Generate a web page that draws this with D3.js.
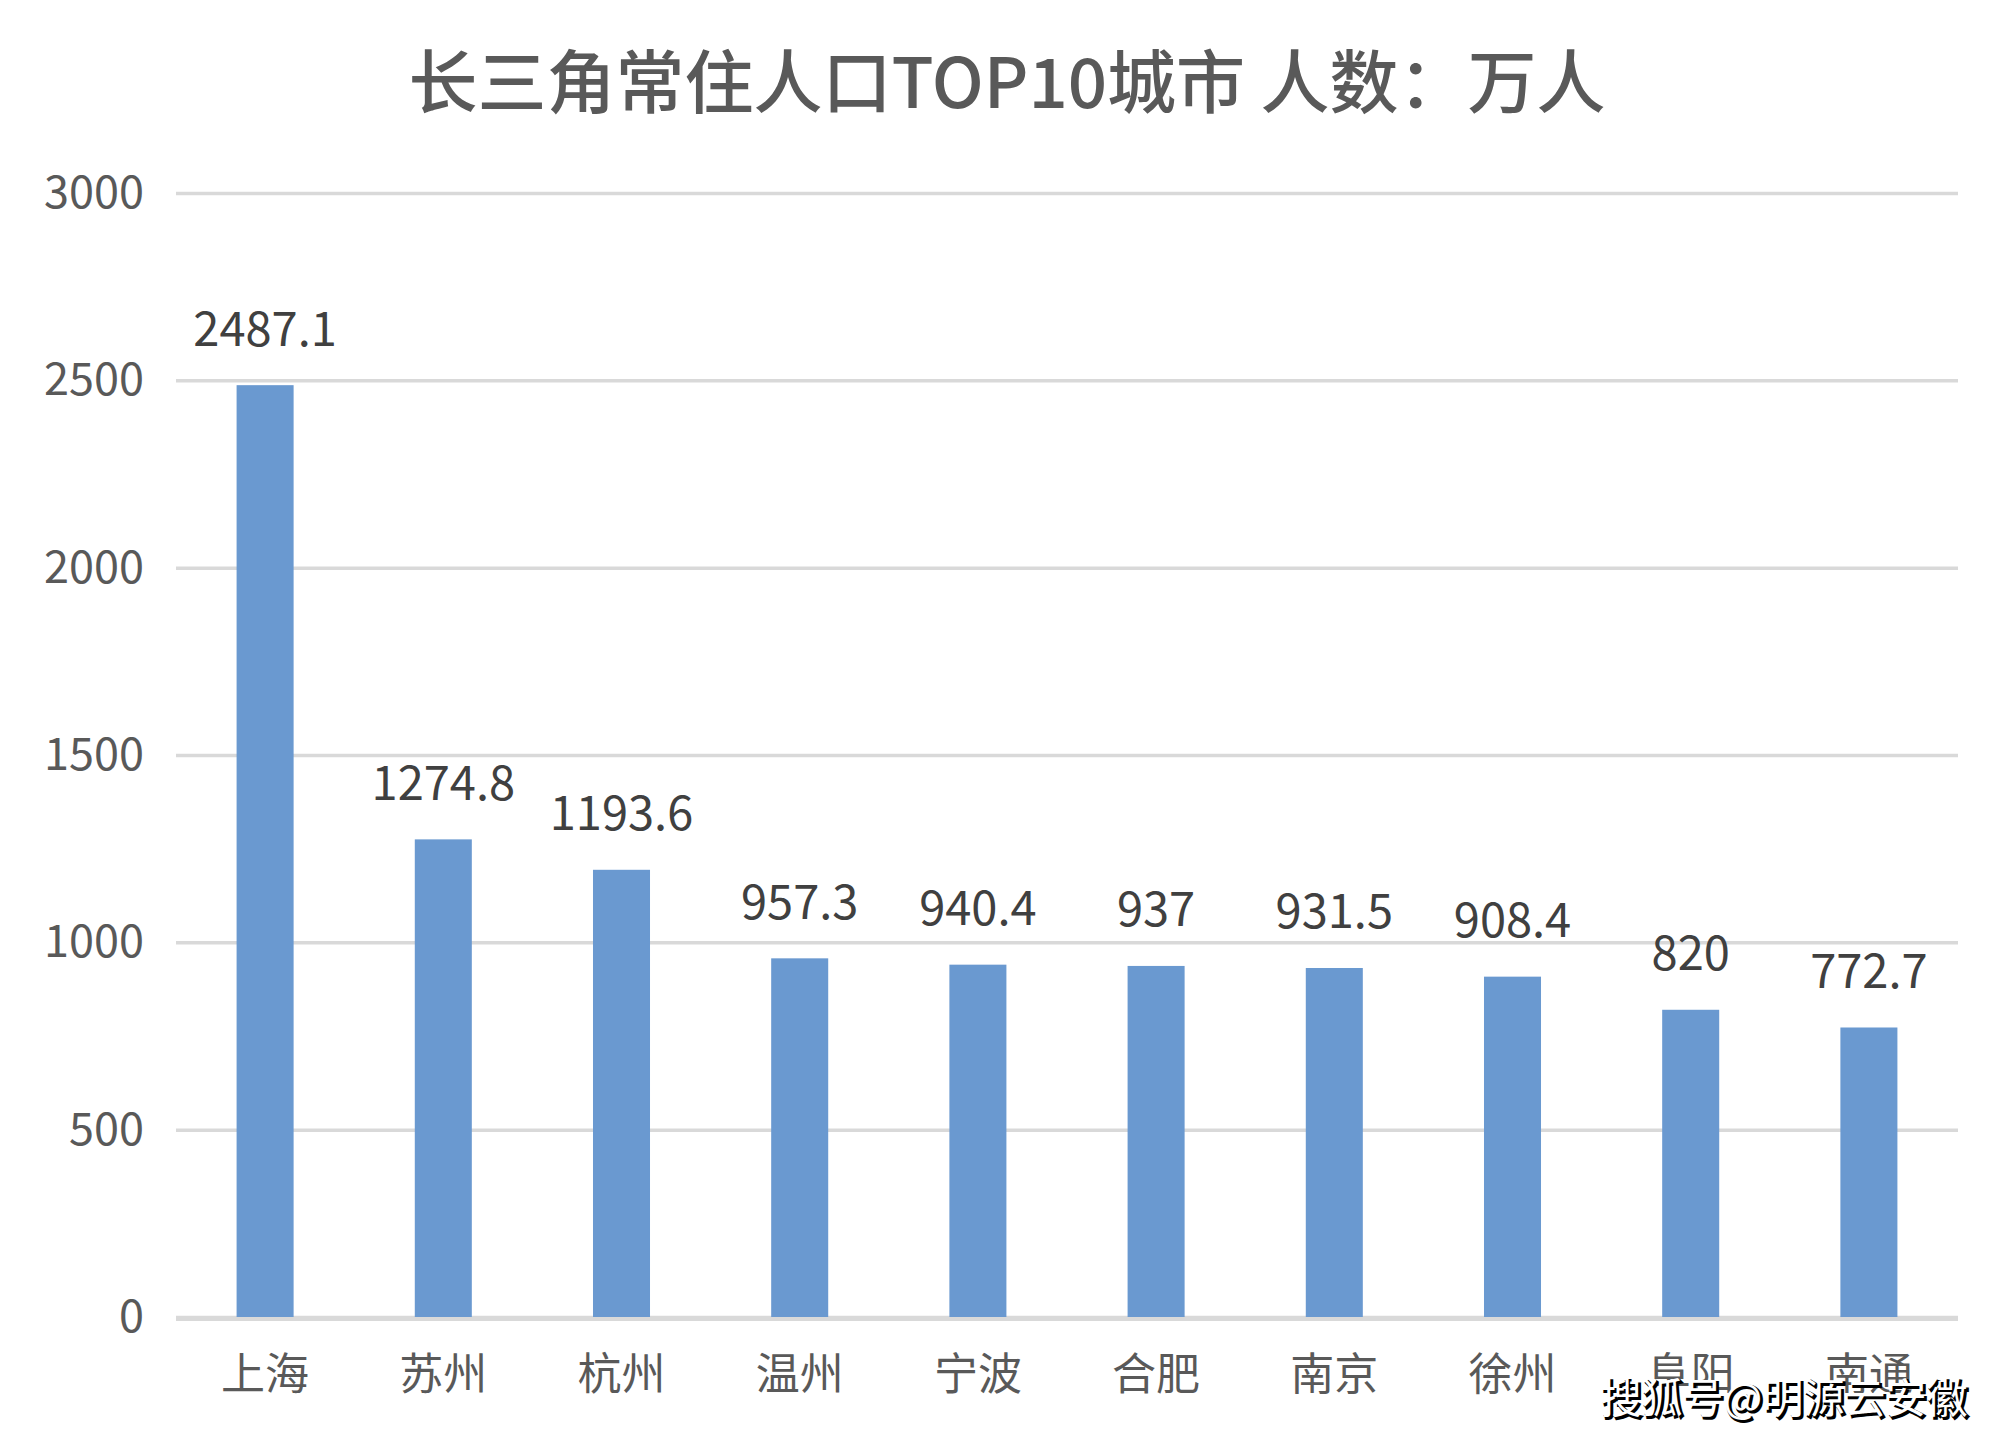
<!DOCTYPE html>
<html><head><meta charset="utf-8">
<script src="https://cdn.jsdelivr.net/npm/d3@7"></script>
<style>html,body{margin:0;padding:0;background:#fff;}</style>
</head><body>
<svg id="chart" width="2016" height="1440"></svg>
<script>
const categories = ["上海","苏州","杭州","温州","宁波","合肥","南京","徐州","阜阳","南通"];
const values = [2487.1,1274.8,1193.6,957.3,940.4,937,931.5,908.4,820,772.7];
const valueLabels = ["2487.1","1274.8","1193.6","957.3","940.4","937","931.5","908.4","820","772.7"];
const yTicks = [0,500,1000,1500,2000,2500,3000];
const titleText = "长三角常住人口TOP10城市 人数：万人";
const watermark = "搜狐号@明源云安徽";

(function(){
const svg = d3.select("#chart");
const font = "'Noto Sans CJK SC','Noto Sans',sans-serif";
const pLeft = 176, pRight = 1958, pTop = 193, pBottom = 1317;

const x = d3.scaleBand().domain(categories).range([pLeft, pRight]).paddingInner(0.68).paddingOuter(0.34);
const y = d3.scaleLinear().domain([0, 3000]).range([pBottom, pTop]);

svg.append("rect").attr("width",2016).attr("height",1440).attr("fill","#fff");

// title
svg.append("text").attr("x",1007).attr("y",78).attr("text-anchor","middle")
  .attr("dominant-baseline","central").attr("font-family",font).attr("font-size",69)
  .attr("font-weight",500).attr("fill","#595959").text(titleText);

// gridlines
const yAxis = d3.axisLeft(y).tickValues(yTicks).tickSize(-(pRight-pLeft)).tickPadding(32).tickFormat(d3.format("d"));
const gAxis = svg.append("g").attr("transform",`translate(${pLeft},0)`).call(yAxis);
gAxis.select(".domain").remove();
gAxis.selectAll(".tick line").attr("stroke","#d9d9d9").attr("stroke-width",3.5);
gAxis.selectAll(".tick text").attr("font-family",font).attr("font-size",45).attr("fill","#595959");

// bars
svg.append("g").selectAll("rect").data(values).join("rect")
  .attr("x",(d,i)=>x(categories[i])).attr("width",x.bandwidth())
  .attr("y",d=>y(d)).attr("height",d=>y(0)-y(d)).attr("fill","#6a99d0");

// baseline
svg.append("line").attr("x1",pLeft).attr("x2",pRight).attr("y1",y(0)+2).attr("y2",y(0)+2)
  .attr("stroke","#d9d9d9").attr("stroke-width",4);

// value labels
svg.append("g").selectAll("text").data(values).join("text")
  .attr("x",(d,i)=>x(categories[i])+x.bandwidth()/2).attr("y",d=>y(d)-60)
  .attr("text-anchor","middle").attr("dominant-baseline","central")
  .attr("font-family",font).attr("font-size",47).attr("fill","#404040")
  .text((d,i)=>valueLabels[i]);

// category labels
const xAxis = d3.axisBottom(x).tickSize(0).tickPadding(42);
const gx = svg.append("g").attr("transform",`translate(0,${pBottom})`).call(xAxis);
gx.select(".domain").remove();
gx.selectAll(".tick text").attr("font-family",font).attr("font-size",44).attr("fill","#595959");

// watermark
const wm = svg.append("g");
wm.append("text").attr("x",1784+2).attr("y",1395+2).attr("text-anchor","middle").attr("dominant-baseline","central")
  .attr("font-family",font).attr("font-size",41).attr("fill","#000").attr("stroke","#000").attr("stroke-width",2).text(watermark);
wm.append("text").attr("x",1784).attr("y",1395).attr("text-anchor","middle").attr("dominant-baseline","central")
  .attr("font-family",font).attr("font-size",41).attr("fill","#fff").text(watermark);
})();
</script>
</body></html>
